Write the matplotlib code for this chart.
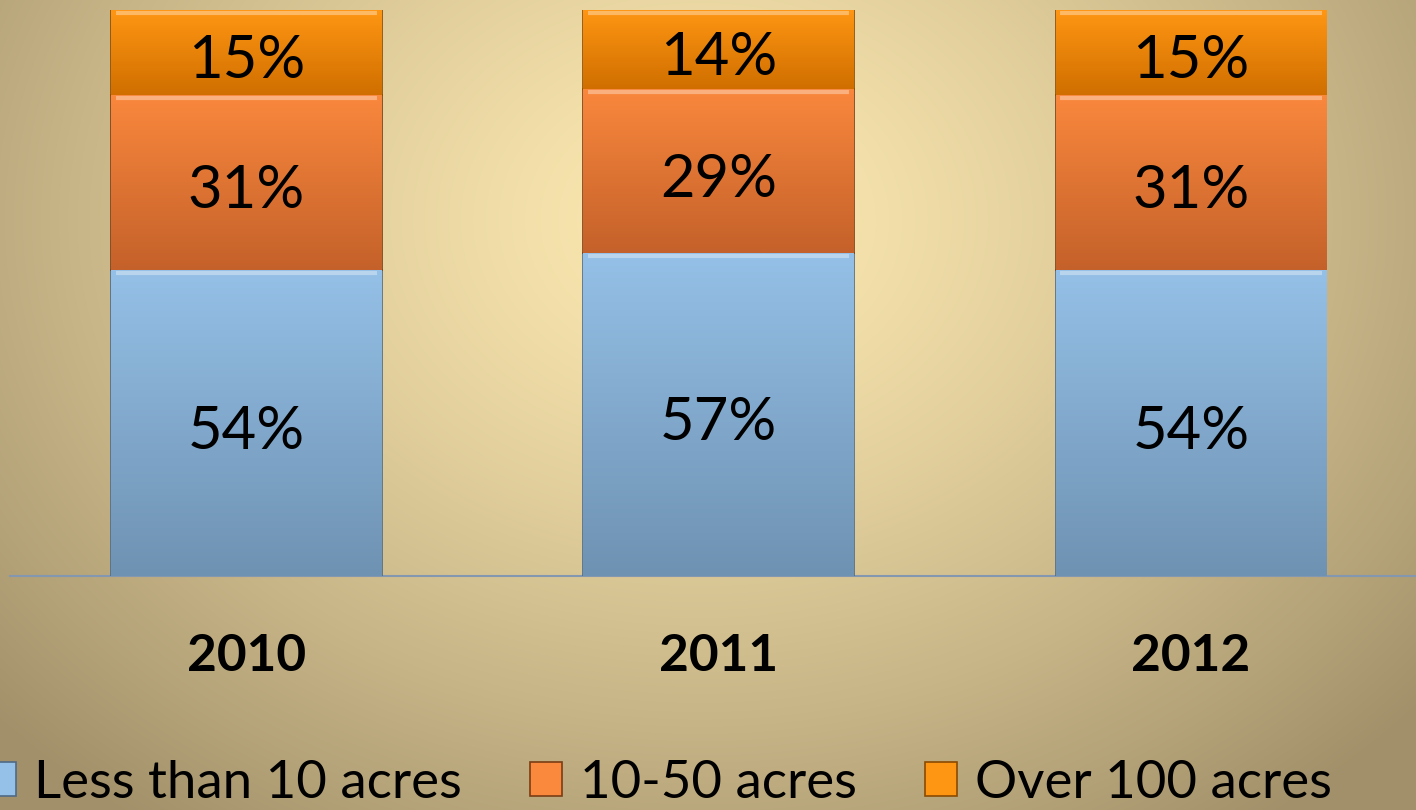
"""Stacked 100% bars of farm size share by year, on a warm gradient backdrop."""
import numpy as np
import matplotlib.pyplot as plt
from matplotlib.colors import LinearSegmentedColormap, to_rgb

plt.rcParams['font.family'] = ['Lato', 'DejaVu Sans']

years = ['2010', '2011', '2012']
series = ['Less than 10 acres', '10-50 acres', 'Over 100 acres']
small = [54, 57, 54]
medium = [31, 29, 31]
large = [15, 14, 15]

# (top colour, bottom colour, edge colour) per series
styles = [
    ('#95c0e7', '#6e92b2', '#4e6a86'),
    ('#fa883d', '#c4612a', '#7a3d14'),
    ('#ff9613', '#d06f00', '#8a4a00'),
]

W, H = 1416, 810
fig = plt.figure(figsize=(W / 100, H / 100), dpi=100)

# background: soft radial glow, light in the upper middle, darker at edges
bg = fig.add_axes([0, 0, 1, 1], zorder=0)
yy, xx = np.mgrid[0:H, 0:W]
r = np.sqrt(((xx - 700) / 950.0) ** 2 + ((yy - 220) / 750.0) ** 2)
r = np.clip(r, 0, 1)
light = np.array(to_rgb('#fce9b1'))
dark = np.array(to_rgb('#a2906a'))
t = r[..., None] ** 1.3
img = light[None, None, :] * (1 - t) + dark[None, None, :] * t
bg.imshow(img, aspect='auto', extent=[0, W, H, 0])
bg.set_axis_off()

ax = fig.add_axes([10 / W, (H - 576) / H, (W - 10) / W, 566 / H], zorder=1)
ax.patch.set_alpha(0)
x = np.arange(len(years))
bottom = np.zeros(len(years))
handles = []
for vals, name, (c_top, c_bot, c_edge) in zip([small, medium, large], series, styles):
    bars = ax.bar(x, vals, width=0.573, bottom=bottom, color=c_top,
                  edgecolor=c_edge, linewidth=1.2, label=name, zorder=2)
    cmap = LinearSegmentedColormap.from_list(name, [c_bot, c_top])
    grad = np.linspace(1, 0, 256).reshape(-1, 1)
    for b, v, bt in zip(bars, vals, bottom):
        x0, w = b.get_x(), b.get_width()
        im = ax.imshow(grad, cmap=cmap, aspect='auto', vmin=0, vmax=1,
                       extent=[x0, x0 + w, bt, bt + v], zorder=2.1)
        im.set_clip_path(b)
        # thin bright bevel at the top edge of each segment
        ax.plot([x0 + 0.01, x0 + w - 0.01], [bt + v - 0.5, bt + v - 0.5],
                color='white', alpha=0.35, lw=3, zorder=2.2, solid_capstyle='butt')
        ax.annotate(f'{v}%', (b.get_x() + w / 2, bt + v / 2), xytext=(0, -6),
                    textcoords='offset points', ha='center', va='center',
                    fontsize=43, color='black', zorder=3)
    handles.append(bars)
    bottom += np.array(vals)

ax.set_xlim(-0.5, 2.476)
ax.set_ylim(0, 100)
ax.set_yticks([])
ax.set_xticks(x)
ax.set_xticklabels(years, fontsize=37, fontweight='bold')
ax.tick_params(axis='x', length=0, pad=41)
for s in ['top', 'right', 'left']:
    ax.spines[s].set_visible(False)
ax.spines['bottom'].set_color('#8497b0')
ax.spines['bottom'].set_linewidth(1.5)
ax.spines['bottom'].set_zorder(1.5)

leg = fig.legend(handles=handles, labels=series, loc='center', ncol=3,
                 bbox_to_anchor=(658 / W, 27 / H), frameon=False, fontsize=38,
                 handlelength=0.6, handleheight=0.6, handletextpad=0.34,
                 columnspacing=1.3, borderaxespad=0, borderpad=0)

fig.savefig('out.png', dpi=100)
plt.close(fig)
